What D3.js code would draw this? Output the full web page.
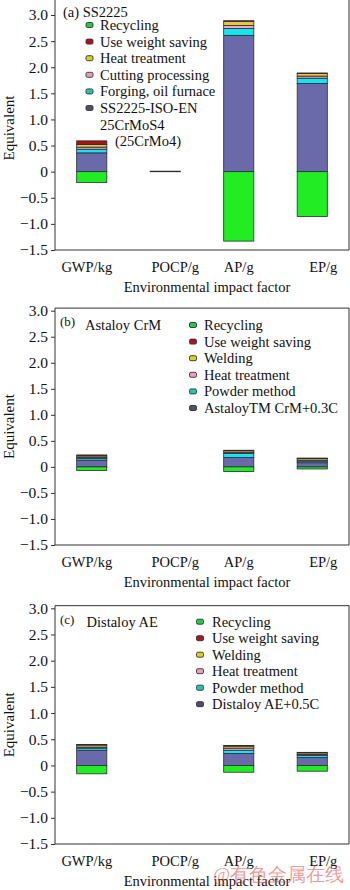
<!DOCTYPE html>
<html><head><meta charset="utf-8">
<script src="https://cdn.jsdelivr.net/npm/d3@7/dist/d3.min.js"></script>
<style>body{margin:0;background:#fff}svg{display:block}text{font-family:"Liberation Serif","Times New Roman",serif;fill:#111}</style>
</head><body><svg id="c" width="350" height="890"></svg>
<script>
const categories = ["GWP/kg","POCP/g","AP/g","EP/g"];
const yTickValues = [3.0,2.5,2.0,1.5,1.0,0.5,0,-0.5,-1.0,-1.5];
const yTickLabels = ["3.0","2.5","2.0","1.5","1.0","0.5","0","\u22120.5","\u22121.0","\u22121.5"];

// Panel (a) SS2225
const aBase      = [0.36, 0.01, 2.61, 1.69];
const aForging   = [0.07, 0,    0.13, 0.10];
const aCutting   = [0.04, 0,    0.06, 0.04];
const aHeat      = [0.05, 0,    0.08, 0.05];
const aUseWeight = [0.07, 0,    0.01, 0.01];
const aRecycling = [-0.21, 0,  -1.33, -0.86];
const aLegend = ["Recycling","Use weight saving","Heat treatment","Cutting processing","Forging, oil furnace","SS2225-ISO-EN|25CrMoS4|(25CrMo4)"];

// Panel (b) Astaloy CrM
const bBase      = [0.13, 0, 0.18, 0.08];
const bPowder    = [0.03, 0, 0.08, 0.03];
const bHeat      = [0.02, 0, 0.02, 0.02];
const bWelding   = [0.03, 0, 0.03, 0.03];
const bUseWeight = [0.02, 0, 0.01, 0.01];
const bRecycling = [-0.07, 0, -0.09, -0.04];
const bLegend = ["Recycling","Use weight saving","Welding","Heat treatment","Powder method","AstaloyTM CrM+0.3C"];

// Panel (c) Distaloy AE
const cBase      = [0.29, 0, 0.23, 0.15];
const cPowder    = [0.04, 0, 0.06, 0.04];
const cHeat      = [0.02, 0, 0.04, 0.02];
const cWelding   = [0.04, 0, 0.04, 0.03];
const cUseWeight = [0.01, 0, 0.01, 0.01];
const cRecycling = [-0.16, 0, -0.13, -0.11];
const cLegend = ["Recycling","Use weight saving","Welding","Heat treatment","Powder method","Distaloy AE+0.5C"];

const C = {green:"#22ec22", red:"#a81414", yellow:"#e6c83a", pink:"#f0a8c8", cyan:"#14e6f0", base:"#6a6aaa"};
const L = {green:"#22cc44", red:"#b01020", yellow:"#d8d020", pink:"#e8a0b8", cyan:"#20c8b0", base:"#505068"};

const panels = [
  {title:"(a) SS2225", sub:null, y3:15, y15:250, top:3.4, titleX:63, titleY:11.7,
   series:[["base",aBase,C.base],["s1",aForging,C.cyan],["s2",aCutting,C.pink],["s3",aHeat,C.yellow],["s4",aUseWeight,C.red],["rec",aRecycling,C.green]],
   legend:aLegend, legCol:[L.green,L.red,L.yellow,L.pink,L.cyan,L.base], legMX:89.5, legTX:100, legY:25, legDY:16.6},
  {title:"(b)", sub:"Astaloy CrM", y3:310.7, y15:545, top:3.05, titleX:60, titleY:321.5, subX:85, subY:325,
   series:[["base",bBase,C.base],["s1",bPowder,C.cyan],["s2",bHeat,C.pink],["s3",bWelding,C.yellow],["s4",bUseWeight,C.red],["rec",bRecycling,C.green]],
   legend:bLegend, legCol:[L.green,L.red,L.yellow,L.pink,L.cyan,L.base], legMX:193, legTX:204, legY:325, legDY:16.6},
  {title:"(c)", sub:"Distaloy AE", y3:608.3, y15:844, top:3.05, titleX:60, titleY:619.5, subX:86.5, subY:622,
   series:[["base",cBase,C.base],["s1",cPowder,C.cyan],["s2",cHeat,C.pink],["s3",cWelding,C.yellow],["s4",cUseWeight,C.red],["rec",cRecycling,C.green]],
   legend:cLegend, legCol:[L.green,L.red,L.yellow,L.pink,L.cyan,L.base], legMX:200, legTX:212, legY:621.7, legDY:16.5}
];

const svg = d3.select("#c");
const x0 = 55, x1 = 349;
const labelNudge = [-5, 10, 0, 11];
const x = d3.scaleBand().domain(categories).range([x0, x1]).paddingInner(0.59).paddingOuter(0.295);

panels.forEach(p => {
  const y = d3.scaleLinear().domain([-1.5, 3.0]).range([p.y15, p.y3]);
  const g = svg.append("g");
  const keys = p.series.map(s => s[0]);
  const rows = categories.map((c, i) => { const r = {cat:c}; p.series.forEach(s => r[s[0]] = s[1][i]); return r; });
  const stack = d3.stack().keys(keys).offset(d3.stackOffsetDiverging)(rows);
  stack.forEach((layer, li) => {
    const col = p.series[li][2];
    g.append("g").selectAll("rect").data(layer.filter(d => Math.abs(d[1]-d[0]) > 1e-9)).join("rect")
      .attr("x", d => x(d.data.cat)).attr("width", x.bandwidth())
      .attr("y", d => y(Math.max(d[0], d[1])))
      .attr("height", d => Math.max(0.6, Math.abs(y(d[0]) - y(d[1]))))
      .attr("fill", col).attr("stroke", "#2a2a3a").attr("stroke-width", 0.8);
  });
  const yTop = y(p.top);
  g.append("path").attr("d", `M${x0},${yTop}V${p.y15}H${x1}V${yTop}H${x0}`)
    .attr("fill", "none").attr("stroke", "#333").attr("stroke-width", 1);
  const ax = d3.axisLeft(y).tickValues(yTickValues).tickSize(4).tickPadding(3)
    .tickFormat((d, i) => yTickLabels[i]);
  const ga = g.append("g").attr("transform", `translate(${x0},0)`).call(ax);
  ga.select(".domain").remove();
  ga.selectAll("line").attr("stroke", "#333");
  ga.selectAll("text").attr("font-size", 15.5).attr("font-family", "Liberation Serif").attr("fill", "#111");
  g.selectAll(".xl").data(categories).join("text")
    .attr("x", (d, i) => x(d) + x.bandwidth()/2 + labelNudge[i]).attr("y", p.y15 + 17)
    .attr("text-anchor", "middle").attr("dominant-baseline", "central").attr("font-size", 14.5).text(d => d);
  g.append("text").attr("x", 207).attr("y", p.y15 + 37).attr("text-anchor", "middle")
    .attr("dominant-baseline", "central").attr("font-size", 14.5).text("Environmental impact factor");
  g.append("text").attr("transform", `translate(14,${(Math.max(yTop,0)+p.y15)/2+ (p.top>3.1?3:0)}) rotate(-90)`)
    .attr("text-anchor", "middle").attr("font-size", 15).text("Equivalent");
  g.append("text").attr("x", p.titleX).attr("y", p.titleY).attr("dominant-baseline", "central")
    .attr("font-size", p.sub ? 13 : 14.5).text(p.title);
  if (p.sub) g.append("text").attr("x", p.subX).attr("y", p.subY).attr("dominant-baseline", "central")
    .attr("font-size", 14.5).text(p.sub);
  p.legend.forEach((lab, i) => {
    const cy = p.legY + i * p.legDY;
    g.append("rect").attr("x", p.legMX - 3.5).attr("y", cy - 2.5).attr("width", 7).attr("height", 5).attr("rx", 1.5)
      .attr("fill", p.legCol[i]).attr("stroke", "#333").attr("stroke-width", 0.9);
    const parts = lab.split("|");
    parts.forEach((t, j) => {
      g.append("text").attr("x", p.legTX + (j === 2 ? 15 : 0)).attr("y", cy + j * p.legDY)
        .attr("dominant-baseline", "central").attr("font-size", 14.5).text(t);
    });
  });
});

svg.append("text").attr("x", 213).attr("y", 875).attr("dominant-baseline", "central")
  .attr("font-family", "Noto Sans CJK SC").attr("font-size", 18.5)
  .style("fill", "rgba(225,70,70,0.55)").text("@有色金属在线");
</script></body></html>
